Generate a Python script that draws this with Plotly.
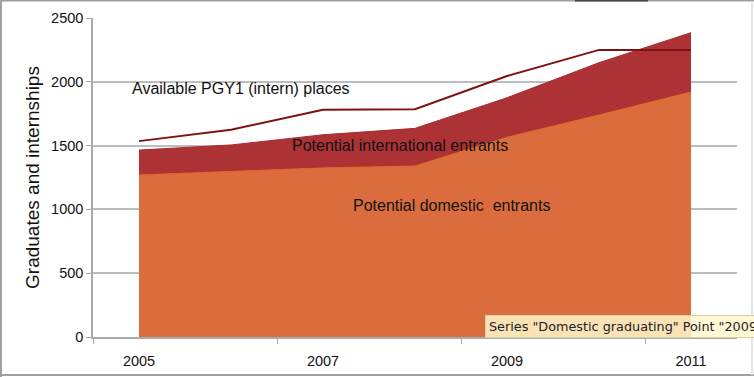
import plotly.graph_objects as go

years = [2005, 2006, 2007, 2008, 2009, 2010, 2011]
domestic = [1270, 1300, 1325, 1340, 1565, 1740, 1920]
international = [195, 205, 260, 295, 310, 410, 465]
pgy1_places = [1535, 1625, 1780, 1785, 2045, 2250, 2250]

x_tick_vals = [2004.5, 2006.5, 2008.5, 2010.5]
x_tick_text = ["2005", "2007", "2009", "2011"]
y_ticks = [0, 500, 1000, 1500, 2000, 2500]

FONT = "Liberation Sans, Arial, Helvetica, sans-serif"

fig = go.Figure()
fig.add_trace(go.Scatter(
    x=years, y=domestic, name="Domestic graduating", stackgroup="one",
    mode="lines", line=dict(color="#E0661F", width=1),
    fillcolor="#DB6C3E", hoverinfo="skip"))
fig.add_trace(go.Scatter(
    x=years, y=international, name="International graduating", stackgroup="one",
    mode="lines", line=dict(color="#A82A2E", width=1),
    fillcolor="#AD3236", hoverinfo="skip"))
fig.add_trace(go.Scatter(
    x=years, y=pgy1_places, name="PGY1 places", mode="lines",
    line=dict(color="#7E1212", width=2), hoverinfo="skip"))

fig.update_layout(
    width=754, height=377,
    margin=dict(l=93, r=17, t=18, b=40, autoexpand=False),
    paper_bgcolor="white", plot_bgcolor="white",
    showlegend=False,
    font=dict(family=FONT, color="#111111", size=14),
    xaxis=dict(
        range=[2004.5, 2011.5], tickmode="array", tickvals=x_tick_vals,
        ticktext=x_tick_text, ticklabelshift=46, ticklabelstandoff=5,
        ticks="outside", ticklen=5, automargin=False,
        tickcolor="#AAAAAA", showgrid=False, zeroline=False,
        showline=True, linecolor="#AAAAAA", linewidth=1.5,
        tickfont=dict(size=14.5, family=FONT),
    ),
    yaxis=dict(
        range=[0, 2500], tickmode="array", tickvals=y_ticks,
        ticks="outside", ticklen=5, tickcolor="#AAAAAA", automargin=False,
        showgrid=True, gridcolor="#BDBDBD", gridwidth=1.5, zeroline=False,
        showline=True, linecolor="#AAAAAA", linewidth=1.5,
        tickfont=dict(size=14.5, family=FONT),
        title=dict(text="Graduates and internships", font=dict(size=19, family=FONT), standoff=6),
    ),
)

fig.add_annotation(x=2006.11, y=1950, xref="x", yref="y", text="Available PGY1 (intern) places",
                   showarrow=False, font=dict(size=16, family=FONT, color="#111111"))
fig.add_annotation(x=2007.84, y=1497, xref="x", yref="y", text="Potential international entrants",
                   showarrow=False, font=dict(size=16, family=FONT, color="#111111"))
fig.add_annotation(x=2008.40, y=1027, xref="x", yref="y", text="Potential domestic&nbsp; entrants",
                   showarrow=False, font=dict(size=16, family=FONT, color="#111111"))

# screenshot tooltip
fig.add_annotation(x=(485 - 93) / 644, y=(337 - 326) / 319, xref="paper", yref="paper",
                   text='Series "Domestic graduating" Point "2009"',
                   showarrow=False, xanchor="left", yanchor="middle",
                   font=dict(size=12.8, family="DejaVu Sans, sans-serif", color="#222222"),
                   bgcolor="rgba(255,247,205,0.85)", bordercolor="#D8CFA8", borderwidth=1, borderpad=3)

# outer frame (left, top, bottom, faint right)
W, H = 644, 319
for x0, y0, x1, y1, col in [(-92 / W, -40 / H, -92 / W, 1 + 18 / H, "#A0A0A0"),
                            (-92 / W, 1 + 17.5 / H, 1 + 17 / W, 1 + 17.5 / H, "#A0A0A0"),
                            (-92 / W, -38 / H, 1 + 17 / W, -38 / H, "#A0A0A0"),
                            ((575 - 93) / W, 1 + 17.5 / H, (648 - 93) / W, 1 + 17.5 / H, "#444444"),
                            ((752 - 93) / W, 1 + 17 / H, (752 - 93) / W, -38 / H, "#E4E4E4")]:
    fig.add_shape(type="line", xref="paper", yref="paper", x0=x0, y0=y0, x1=x1, y1=y1,
                  line=dict(color=col, width=2))

fig.write_html("out.html", config={"displayModeBar": False},
               post_script="document.body.style.margin='0px';")
